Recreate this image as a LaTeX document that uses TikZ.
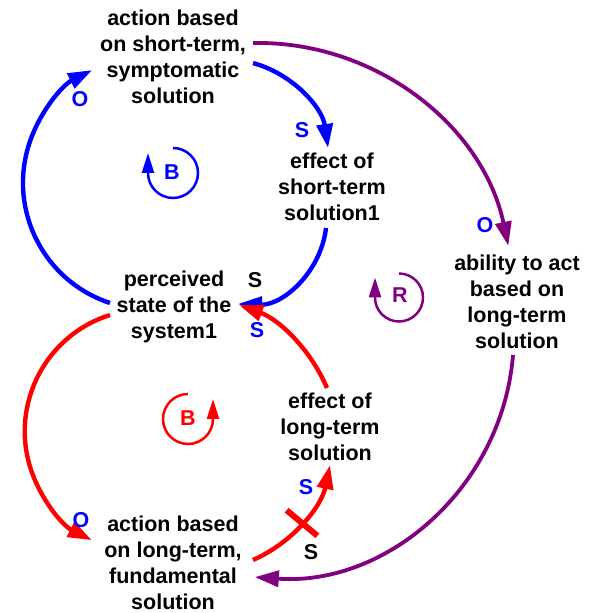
\documentclass[tikz,border=0pt]{standalone}
\usepackage{fontspec}
\setmainfont{Liberation Sans}
\usetikzlibrary{arrows.meta}
\definecolor{cblue}{RGB}{0,0,255}
\definecolor{cred}{RGB}{255,0,0}
\definecolor{cpurple}{RGB}{128,0,128}
\begin{document}
\begin{tikzpicture}[x=1pt,y=1pt,
  var/.style={align=center, inner sep=0pt, font=\fontsize{21.5}{26}\selectfont\bfseries},
  pol/.style={inner sep=0pt, font=\fontsize{21.5}{26}\selectfont\bfseries},
  link/.style={line width=4.4pt, -{Triangle[length=24pt,width=16pt]}},
  plink/.style={line width=3.8pt, -{Triangle[length=24pt,width=16pt]}},
  loopline/.style={line width=2.5pt, -{Triangle[length=20pt,width=12pt]}},
]
\useasboundingbox (0,0) rectangle (601,613);
% variables
\node[var] (A)  at (173,556) {action based\\on short-term,\\symptomatic\\solution};
\node[var] (E1) at (332,426) {effect of\\short-term\\solution1};
\node[var] (P)  at (174,306) {perceived\\state of the\\system1};
\node[var] (L)  at (517,311) {ability to act\\based on\\long-term\\solution};
\node[var] (E2) at (330,186) {effect of\\long-term\\solution};
\node[var] (F)  at (173,50)  {action based\\on long-term,\\fundamental\\solution};
% blue loop
\draw[link,cblue] ([shift={(-64,4)}]P.center) arc[start angle=251.8,end angle=117,radius=126.5pt];
\draw[link,cblue] ([shift={(80,-6)}]A.center) arc[start angle=74.6,end angle=8.3,radius=103.7pt];
\draw[link,cblue] ([shift={(-6,-41)}]E1.center) arc[start angle=-6.6,end angle=-91.8,radius=85.9pt];
% red loop
\draw[link,cred] ([shift={(-3,39)}]E2.center) arc[start angle=23,end angle=70.4,radius=150.4pt];
\draw[link,cred] ([shift={(-64,-8)}]P.center) arc[start angle=107.5,end angle=243.3,radius=121.9pt];
\draw[link,cred] ([shift={(80,3)}]F.center) arc[start angle=-66.2,end angle=-11.9,radius=133.9pt];
\draw[cred,line width=6pt] (286.6,102.8) -- (317.4,77.2);
% purple loop
\draw[plink,cpurple] ([shift={(80,14)}]A.center) arc[start angle=91.1,end angle=12,radius=256pt];
\draw[plink,cpurple] ([shift={(-4,-53)}]L.center) arc[start angle=-4.6,end angle=-94,radius=242.1pt];
% polarity labels
\node[pol,text=cblue] (o1) at (80,514) {O};
\node[pol,text=cblue] (s1) at (302,483) {S};
\node[pol] (s2) at (255,333) {S};
\node[pol,text=cblue] (s3) at (257,283) {S};
\node[pol,text=cblue] (o2) at (485,388) {O};
\node[pol,text=cblue] (o3) at (81,93) {O};
\node[pol,text=cblue] (s4) at (306,126) {S};
\node[pol] (s5) at (311,61) {S};
% loop markers
\node[pol,text=cblue] (LB1) at (172,441) {B};
\draw[loopline,cblue] ([shift={(1,24)}]LB1.center) arc[start angle=90,end angle=-180,radius=25pt] -- ++(0,20);
\node[pol,text=cred] (LB2) at (188,195) {B};
\draw[loopline,cred] ([shift={(0,24)}]LB2.center) arc[start angle=90,end angle=360,radius=25pt] -- ++(0,20);
\node[pol,text=cpurple] (LR) at (400,318) {R};
\draw[loopline,cpurple] ([shift={(-1,21.5)}]LR.center) arc[start angle=90,end angle=-180,radius=24pt] -- ++(0,20);
\end{tikzpicture}
\end{document}
